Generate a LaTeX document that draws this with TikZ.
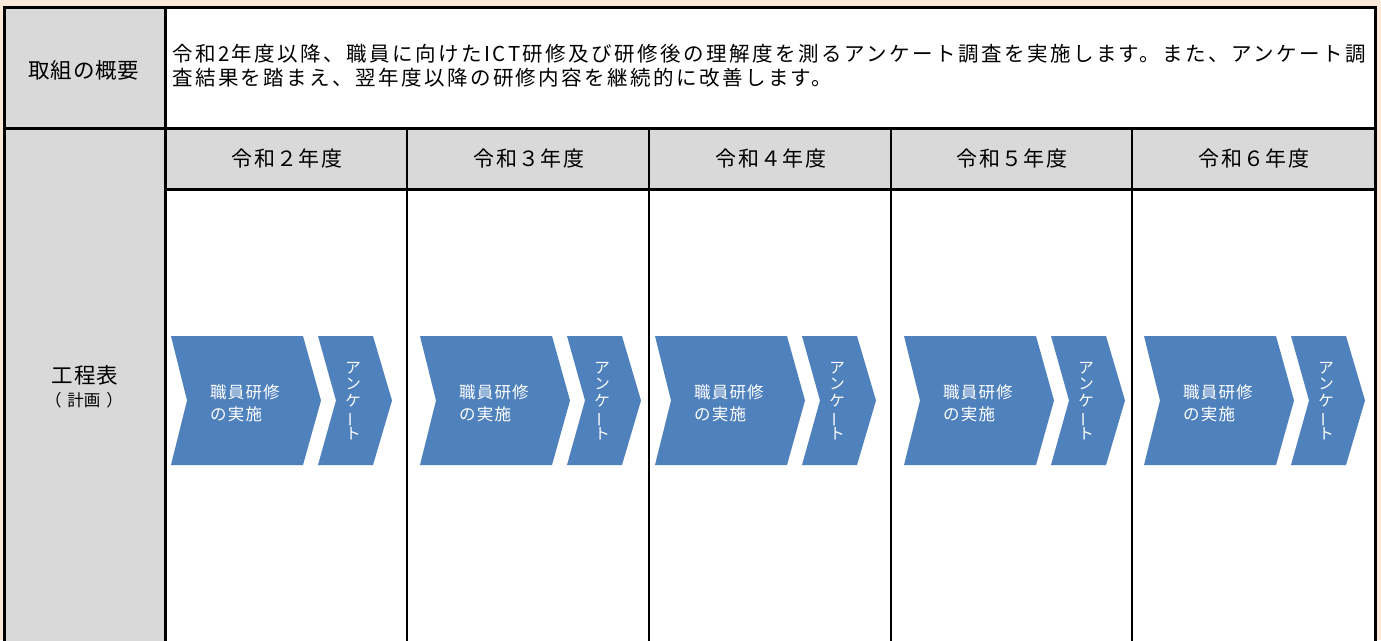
\documentclass[tikz,border=0pt]{standalone}
\usepackage{fontspec}
\usepackage{graphicx}
\newfontfamily\jp{Noto Sans CJK JP}
\definecolor{peach}{HTML}{FDE9D9}
\definecolor{cellgray}{HTML}{D9D9D9}
\definecolor{chevblue}{HTML}{4F81BD}
\tikzset{
  thickline/.style={line width=3pt, black},
  thinline/.style={line width=1.5pt, black},
  chevbig/.style={fill=chevblue},
  chevtext/.style={text=white, inner sep=0pt, align=left, anchor=west,
    font={\jp\addfontfeatures{LetterSpace=7}\fontsize{16.5}{22}\selectfont}},
  verttext/.style={text=white, inner sep=0pt, align=center,
    font={\jp\fontsize{15.5}{16.5}\selectfont}},
  hdrtext/.style={inner sep=0pt,
    font={\jp\addfontfeatures{LetterSpace=6.7}\fontsize{21}{24}\selectfont}},
  lbltext/.style={inner sep=0pt,
    font={\jp\addfontfeatures{LetterSpace=4}\fontsize{21.5}{24}\selectfont}},
  subtext/.style={inner sep=0pt,
    font={\jp\fontsize{16.5}{20}\selectfont}},
  ovtextA/.style={inner sep=0pt, anchor=west,
    font={\jp\addfontfeatures{LetterSpace=12}\fontsize{20.5}{24}\selectfont}},
  ovtextB/.style={inner sep=0pt, anchor=west,
    font={\jp\addfontfeatures{LetterSpace=11.8}\fontsize{20.5}{24}\selectfont}},
}
\begin{document}
\begin{tikzpicture}[x=1pt,y=-1pt]
\useasboundingbox (0,0) rectangle (1381,640);
\fill[peach] (0,0) rectangle (1381,640);
% cell fills
\fill[cellgray] (4.5,7) rectangle (165,645);
\fill[white] (165,7) rectangle (1375.5,128);
\fill[cellgray] (165,128) rectangle (1375.5,189.5);
\fill[white] (165,189.5) rectangle (1375.5,645);
% column separators
\foreach \x in {407,649,891,1132}
  \draw[thinline] (\x,128) -- (\x,645);
% thick rules
\draw[thickline] (4.5,645) -- (4.5,7) -- (1375.5,7) -- (1375.5,645);
\draw[thickline] (3,128) -- (1377,128);
\draw[thickline] (165,7) -- (165,645);
\draw[thickline] (165,189.5) -- (1375.5,189.5);

% left labels
\node[lbltext] (lblov) at (84,70) {取組の概要};
\node[lbltext] (lblsched) at (85,375) {工程表};
\node[subtext] (lblplan) at (84,400) {（\hspace{6pt}計画\hspace{6pt}）};

% overview text
\node[ovtextA] (ov1) at (172,53.5) {令和2年度以降、職員に向けたICT研修及び研修後の理解度を測るアンケート調査を実施します。また、アンケート調};
\node[ovtextB] (ov2) at (172,78) {査結果を踏まえ、翌年度以降の研修内容を継続的に改善します。};

% year headers
\node[hdrtext] (yr2) at (287,158) {令和２年度};
\node[hdrtext] (yr3) at (529,158) {令和３年度};
\node[hdrtext] (yr4) at (771,158) {令和４年度};
\node[hdrtext] (yr5) at (1012,158) {令和５年度};
\node[hdrtext] (yr6) at (1254,158) {令和６年度};

% chevrons
\foreach \L [count=\i] in {171,420,655,904,1144} {
  \fill[chevbig] (\L,336) -- ++(132,0) -- ++(18,64.5) -- ++(-18,64.5)
     -- ++(-132,0) -- ++(16,-64.5) -- cycle;
  \fill[chevbig] (\L+147,336) -- ++(55,0) -- ++(19,64.5) -- ++(-19,64.5)
     -- ++(-55,0) -- ++(18,-64.5) -- cycle;
  \node[chevtext] (task\i) at (\L+39,403) {職員研修\\の実施};
  \node[verttext] (survey\i) at (\L+147+35,401)
     {ア\\ン\\ケ\\\rotatebox[origin=c]{90}{ー}\\ト};
}
\end{tikzpicture}
\end{document}
